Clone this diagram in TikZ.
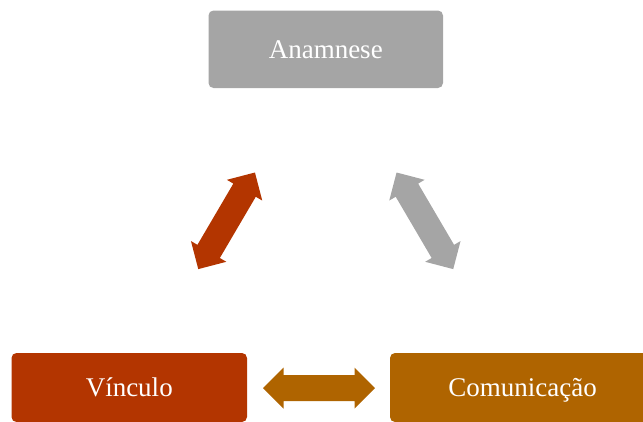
\documentclass[tikz,border=0pt]{standalone}
\usepackage{fontspec}
\setmainfont{Liberation Serif}
\definecolor{cgray}{HTML}{A5A5A5}
\definecolor{cred}{HTML}{B33500}
\definecolor{corange}{HTML}{AF6400}
\begin{document}
\begin{tikzpicture}[x=1pt,y=-1pt,
  box/.style={rounded corners=5pt, text=white, font=\fontsize{27}{30}\selectfont,
    text height=18pt, text depth=0pt, inner sep=0pt},
  dblarrow/.pic={\fill (-56,0) -- (-35.5,-20.5) -- (-35.5,-13) -- (35.5,-13) -- (35.5,-20.5)
     -- (56,0) -- (35.5,20.5) -- (35.5,13) -- (-35.5,13) -- (-35.5,20.5) -- cycle;}]
\useasboundingbox (0,0) rectangle (643,421);
\node[box, fill=cgray, minimum width=234.5pt, minimum height=77.5pt] (anam) at (325.75,49.25) {Anamnese};
\node[box, fill=cred, minimum width=235.5pt, minimum height=69pt] (vinc) at (129.25,387.5) {Vínculo};
\node[box, fill=corange, minimum width=265pt, minimum height=69pt] (comu) at (522.5,387.5) {Comunicação};
\pic[color=cred, rotate=59.6] (a1) at (226.6,220.8) {dblarrow};
\pic[color=cgray, rotate=-59.6] (a2) at (424.9,220.8) {dblarrow};
\pic[color=corange] (a3) at (319,388) {dblarrow};
\end{tikzpicture}
\end{document}
